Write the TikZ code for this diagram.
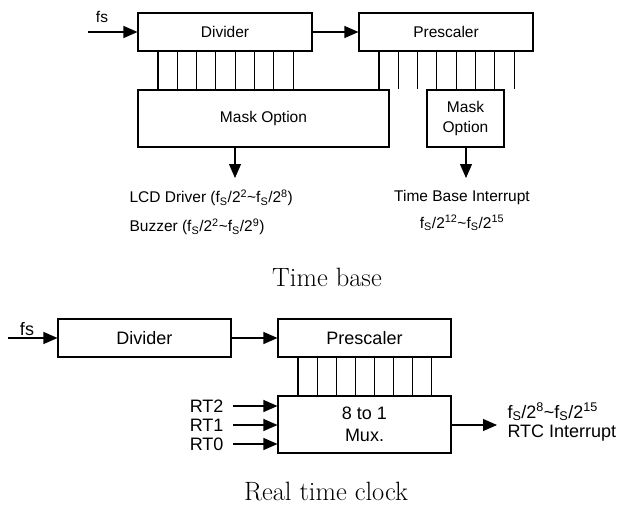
\documentclass[tikz,border=0pt]{standalone}
\usepackage{fontspec}
\newfontfamily\arial{Liberation Sans}
\usetikzlibrary{arrows.meta}
\begin{document}
\begin{tikzpicture}[x=1pt,y=-1pt,line width=1.1pt,
  box/.style={draw,rectangle,inner sep=0pt,font=\arial\fontsize{15.5}{20}\selectfont},
  boxb/.style={draw,rectangle,inner sep=0pt,font=\arial\fontsize{18}{22}\selectfont},
  arr/.style={-{Triangle[length=14pt,width=12pt]}},
  lbl/.style={inner sep=0pt,font=\arial\fontsize{15.5}{18}\selectfont},
  lblb/.style={inner sep=0pt,font=\arial\fontsize{18}{21}\selectfont},
  captext/.style={inner sep=0pt,font=\fontsize{26.5}{30}\selectfont}]
\useasboundingbox (0,0) rectangle (621,506);
% ---------- Time base ----------
\node[box,minimum width=174pt,minimum height=38pt] (div1) at (225,32) {Divider};
\node[box,minimum width=174pt,minimum height=38pt] (pre1) at (446,32) {Prescaler};
\node[box,minimum width=251pt,minimum height=57pt] (mask1) at (263.5,118.5) {Mask Option};
\node[box,minimum width=77pt,minimum height=57pt,align=center] (mask2) at (465.5,118.5) {Mask\\Option};
\coordinate (fs1) at (88,32);
\draw[arr] (fs1) -- (div1.west);
\node[lbl] (fs1l) at (102,17) {fs};
\draw[arr] (div1.east) -- (pre1.west);
\foreach \i in {0,...,7}{
  \pgfmathsetmacro\xx{158+19.3*\i}
  \draw (\xx,0 |- div1.south) -- (\xx,0 |- mask1.north);
}
\foreach \i in {0,...,7}{
  \pgfmathsetmacro\xx{379+19.3*\i}
  \draw (\xx,0 |- pre1.south) -- (\xx,0 |- mask1.north);
}
\coordinate (o1) at (235,178);
\draw[arr] (mask1.south -| o1) -- (o1);
\coordinate (o2) at (466,178);
\draw[arr] (mask2.south -| o2) -- (o2);
\node[lbl,anchor=west] (lcd) at (129,198) {LCD Driver (f\textsubscript{S}/2\textsuperscript{2}\textasciitilde f\textsubscript{S}/2\textsuperscript{8})};
\node[lbl,anchor=west] (buz) at (129,227) {Buzzer (f\textsubscript{S}/2\textsuperscript{2}\textasciitilde f\textsubscript{S}/2\textsuperscript{9})};
\node[lbl] (tbi) at (462,197) {Time Base Interrupt};
\node[lbl] (tbf) at (462,223) {f\textsubscript{S}/2\textsuperscript{12}\textasciitilde f\textsubscript{S}/2\textsuperscript{15}};
\node[captext] (cap1) at (327,277) {Time base};
% ---------- Real time clock ----------
\node[boxb,minimum width=173pt,minimum height=38pt] (div2) at (144.5,338) {Divider};
\node[boxb,minimum width=173pt,minimum height=38pt] (pre2) at (364.5,338) {Prescaler};
\node[boxb,minimum width=173pt,minimum height=57pt,align=center] (mux) at (364.5,424.5) {8 to 1\\Mux.};
\coordinate (fs2) at (8,338);
\draw[arr] (fs2) -- (div2.west);
\node[lblb] (fs2l) at (27,329) {fs};
\draw[arr] (div2.east) -- (pre2.west);
\foreach \i in {0,...,7}{
  \pgfmathsetmacro\xx{298+19.1*\i}
  \draw (\xx,0 |- pre2.south) -- (\xx,0 |- mux.north);
}
\coordinate (rt2) at (233,406);
\coordinate (rt1) at (233,425);
\coordinate (rt0) at (233,444);
\draw[arr] (rt2) -- (rt2 -| mux.west);
\draw[arr] (rt1) -- (rt1 -| mux.west);
\draw[arr] (rt0) -- (rt0 -| mux.west);
\node[lblb,anchor=east] (rt2l) at (224,406) {RT2};
\node[lblb,anchor=east] (rt1l) at (224,425) {RT1};
\node[lblb,anchor=east] (rt0l) at (224,444) {RT0};
\coordinate (out) at (497,425);
\draw[arr] (mux.east |- out) -- (out);
\node[lblb,anchor=west] (rtf) at (507,412) {f\textsubscript{S}/2\textsuperscript{8}\textasciitilde f\textsubscript{S}/2\textsuperscript{15}};
\node[lblb,anchor=west] (rtc) at (507,433) {RTC Interrupt};
\node[captext] (cap2) at (326,492) {Real time clock};
\end{tikzpicture}
\end{document}
